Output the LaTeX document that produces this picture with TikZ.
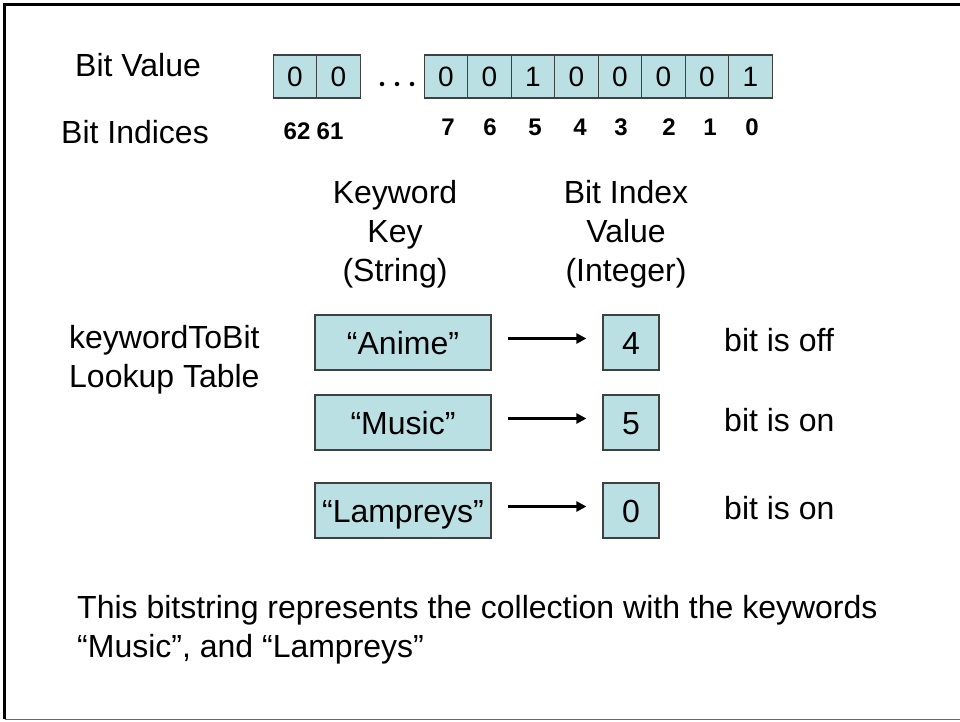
\documentclass[tikz,border=0pt]{standalone}
\usepackage{fontspec}
\setmainfont{Liberation Sans}
\usetikzlibrary{arrows.meta}
\definecolor{cellfill}{HTML}{BBE0E3}
\definecolor{cellline}{HTML}{404040}
\tikzset{
  x=1pt, y=-1pt,
  bigtext/.style={font=\fontsize{32}{39}\selectfont, inner sep=0pt},
  idx/.style={font=\fontsize{24}{26}\selectfont\bfseries, inner sep=0pt},
  bitcell/.style={draw=cellline, fill=cellfill, line width=1.2pt, minimum width=43.5pt, minimum height=43pt, inner sep=0pt, outer sep=0pt, text height=20pt, text depth=0pt, font=\fontsize{28}{30}\selectfont},
  keybox/.style={draw=cellline, fill=cellfill, line width=1.2pt, minimum width=176pt, minimum height=55pt, inner sep=0pt, text height=23pt, text depth=0pt, font=\fontsize{32}{39}\selectfont},
  valbox/.style={draw=cellline, fill=cellfill, line width=1.2pt, minimum width=56pt, minimum height=55pt, inner sep=0pt, text height=23pt, text depth=0pt, font=\fontsize{32}{39}\selectfont},
  arr/.style={line width=3.5pt, -{Triangle[length=10pt,width=10pt]}, shorten <=16pt, shorten >=16pt},
  dot/.style={circle, fill=black, inner sep=0pt, minimum size=4.5pt}
}
\begin{document}
\begin{tikzpicture}
\useasboundingbox (0,0) rectangle (960,721);
% frame
\draw[line width=3pt, black] (960,4.5) -- (4.5,4.5) -- (4.5,719);
\draw[line width=1.2pt, black!60] (4.5,719.5) -- (960,719.5);

% labels
\node[bigtext, anchor=west] (bitvalue) at (75,65) {Bit Value};
\node[bigtext, anchor=west] (bitindices) at (61,132) {Bit Indices};

% bit cells
\node[bitcell] (c62) at (295,76.5) {0};
\node[bitcell] (c61) at (338.5,76.5) {0};
\node[dot] (d1) at (382,84) {};
\node[dot] (d2) at (397,84) {};
\node[dot] (d3) at (412,84) {};
\node[bitcell] (c7) at (446,76.5) {0};
\node[bitcell] (c6) at (489.5,76.5) {0};
\node[bitcell] (c5) at (533,76.5) {1};
\node[bitcell] (c4) at (576.5,76.5) {0};
\node[bitcell] (c3) at (620,76.5) {0};
\node[bitcell] (c2) at (663.5,76.5) {0};
\node[bitcell] (c1) at (707,76.5) {0};
\node[bitcell] (c0) at (750.5,76.5) {1};

% indices
\node[idx] (i62) at (297,131) {62};
\node[idx] (i61) at (330,131) {61};
\node[idx] (i7) at (448,127) {7};
\node[idx] (i6) at (490,127) {6};
\node[idx] (i5) at (535,127) {5};
\node[idx] (i4) at (580,127) {4};
\node[idx] (i3) at (621,127) {3};
\node[idx] (i2) at (669,127) {2};
\node[idx] (i1) at (710,127) {1};
\node[idx] (i0) at (752,127) {0};

% headers
\node[bigtext, align=center] (hkey) at (395,234) {Keyword\\Key\\(String)};
\node[bigtext, align=center] (hval) at (626,234) {Bit Index\\Value\\(Integer)};

\node[bigtext, align=left, anchor=west] (lookup) at (69,359.5) {keywordToBit\\Lookup Table};

% table rows
\node[keybox] (k1) at (403,342.5) {“Anime”};
\node[keybox] (k2) at (403,422.5) {“Music”};
\node[keybox] (k3) at (403,510.5) {“Lampreys”};
\node[valbox] (v1) at (631,342.5) {4};
\node[valbox] (v2) at (631,422.5) {5};
\node[valbox] (v3) at (631,510.5) {0};

\draw[arr] ([yshift=4pt]k1.east) -- ([yshift=4pt]v1.west);
\draw[arr] ([yshift=4pt]k2.east) -- ([yshift=4pt]v2.west);
\draw[arr] ([yshift=4pt]k3.east) -- ([yshift=4pt]v3.west);

\node[bigtext, anchor=west] (s1) at (724,340) {bit is off};
\node[bigtext, anchor=west] (s2) at (724,420) {bit is on};
\node[bigtext, anchor=west] (s3) at (724,508) {bit is on};

% bottom text
\node[bigtext, align=left, anchor=north west] (summary) at (77,595) {This bitstring represents the collection with the keywords\\“Music”, and “Lampreys”};
\end{tikzpicture}
\end{document}
